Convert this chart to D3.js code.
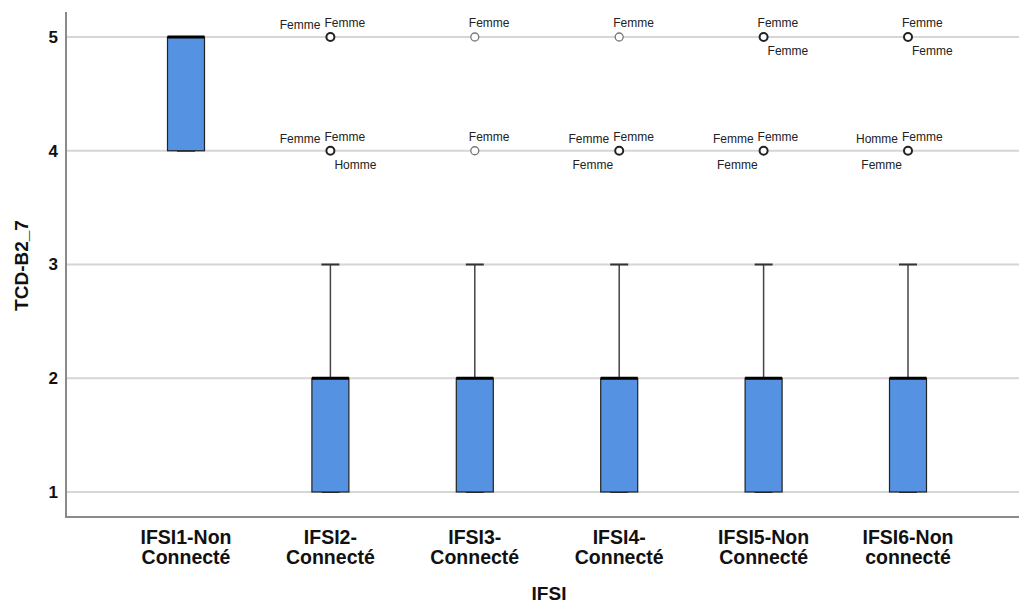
<!DOCTYPE html>
<html>
<head>
<meta charset="utf-8">
<script src="https://cdn.jsdelivr.net/npm/d3@7"></script>
<style>
  html, body { margin: 0; padding: 0; background: #fff; }
  svg { display: block; font-family: Arial, "Liberation Sans", sans-serif; }
</style>
</head>
<body>
<svg id="chart" width="1019" height="605"></svg>
<script>
// ---- data ----
const categories = ["IFSI1-Non Connecté", "IFSI2-Connecté", "IFSI3-Connecté", "IFSI4-Connecté", "IFSI5-Non Connecté", "IFSI6-Non connecté"];
const categoryLines = [["IFSI1-Non", "Connecté"], ["IFSI2-", "Connecté"], ["IFSI3-", "Connecté"], ["IFSI4-", "Connecté"], ["IFSI5-Non", "Connecté"], ["IFSI6-Non", "connecté"]];
const whiskerLow = [4, 1, 1, 1, 1, 1];
const q1 = [4, 1, 1, 1, 1, 1];
const median = [5, 2, 2, 2, 2, 2];
const q3 = [5, 2, 2, 2, 2, 2];
const whiskerHigh = [5, 3, 3, 3, 3, 3];
const yTicks = [1, 2, 3, 4, 5];
const yTitle = "TCD-B2_7";
const xTitle = "IFSI";
// outliers: group index, value, labels with anchor (t = above, l = left, br = below right, bl = below left)
const outlierGroup = [1, 1, 2, 2, 3, 3, 4, 4, 5, 5];
const outlierValue = [5, 4, 5, 4, 5, 4, 5, 4, 5, 4];
const outlierLabels = [
  [["t", "Femme"], ["l", "Femme"]],
  [["t", "Femme"], ["l", "Femme"], ["br", "Homme"]],
  [["t", "Femme"]],
  [["t", "Femme"]],
  [["t", "Femme"]],
  [["t", "Femme"], ["l", "Femme"], ["bl", "Femme"]],
  [["t", "Femme"], ["br", "Femme"]],
  [["t", "Femme"], ["l", "Femme"], ["bl", "Femme"]],
  [["t", "Femme"], ["br", "Femme"]],
  [["t", "Femme"], ["l", "Homme"], ["bl", "Femme"]]
];

// ---- layout ----
const svg = d3.select("#chart");
const pLeft = 66, pRight = 1019, pTop = 12, pBottom = 517;
const x = d3.scalePoint().domain(categories).range([186, 908]);
const y = d3.scaleLinear().domain([0.78, 5.22]).range([pBottom, pTop]);
const boxW = 37, capW = 18;

// gridlines
svg.append("g").selectAll("line").data(yTicks).join("line")
  .attr("x1", pLeft).attr("x2", pRight)
  .attr("y1", d => y(d)).attr("y2", d => y(d))
  .attr("stroke", "#d6d6d6").attr("stroke-width", 2);

// axes
const yAxis = d3.axisLeft(y).tickValues(yTicks).tickSize(0).tickPadding(8).tickFormat(d3.format("d"));
const gy = svg.append("g").attr("transform", `translate(${pLeft},0)`).call(yAxis);
gy.select(".domain").remove();
gy.selectAll("text").attr("font-size", 17).attr("font-weight", "bold").attr("fill", "#111")
  .attr("font-family", "Arial, 'Liberation Sans', sans-serif");

const xAxis = d3.axisBottom(x).tickSize(0).tickFormat("");
const gx = svg.append("g").attr("transform", `translate(0,${pBottom})`).call(xAxis);
gx.select(".domain").remove();

svg.append("line").attr("x1", pLeft).attr("x2", pLeft).attr("y1", pTop).attr("y2", pBottom + 1)
  .attr("stroke", "#8a8a8a").attr("stroke-width", 2);
svg.append("line").attr("x1", pLeft - 1).attr("x2", pRight).attr("y1", pBottom).attr("y2", pBottom)
  .attr("stroke", "#8a8a8a").attr("stroke-width", 2);

// category labels
const catG = svg.append("g");
categories.forEach((c, i) => {
  const t = catG.append("text").attr("x", x(c)).attr("y", 544)
    .attr("text-anchor", "middle").attr("font-size", 19.5).attr("font-weight", "bold").attr("fill", "#111");
  categoryLines[i].forEach((ln, j) => {
    t.append("tspan").attr("x", x(c)).attr("dy", j === 0 ? 0 : 20).text(ln);
  });
});

// titles
svg.append("text").attr("x", 549).attr("y", 600).attr("text-anchor", "middle")
  .attr("font-size", 19).attr("font-weight", "bold").attr("fill", "#111").text(xTitle);
svg.append("text").attr("transform", `translate(28,${(pTop + pBottom) / 2 + 1}) rotate(-90)`)
  .attr("text-anchor", "middle").attr("font-size", 19).attr("font-weight", "bold").attr("fill", "#111").text(yTitle);

// boxes
const boxes = svg.append("g");
categories.forEach((c, i) => {
  const cx = x(c);
  boxes.append("line").attr("x1", cx).attr("x2", cx).attr("y1", y(whiskerHigh[i])).attr("y2", y(q3[i]))
    .attr("stroke", "#444").attr("stroke-width", 1.5);
  boxes.append("line").attr("x1", cx).attr("x2", cx).attr("y1", y(whiskerLow[i])).attr("y2", y(q1[i]))
    .attr("stroke", "#444").attr("stroke-width", 1.5);
  [whiskerHigh[i], whiskerLow[i]].forEach(v => {
    boxes.append("line").attr("x1", cx - capW / 2).attr("x2", cx + capW / 2).attr("y1", y(v)).attr("y2", y(v))
      .attr("stroke", "#333").attr("stroke-width", 2);
  });
  boxes.append("rect").attr("x", cx - boxW / 2).attr("y", y(q3[i])).attr("width", boxW)
    .attr("height", y(q1[i]) - y(q3[i])).attr("fill", "#5593e2").attr("stroke", "#222").attr("stroke-width", 1.2);
  boxes.append("line").attr("x1", cx - boxW / 2).attr("x2", cx + boxW / 2).attr("y1", y(median[i])).attr("y2", y(median[i]))
    .attr("stroke", "#000").attr("stroke-width", 3);
});

// outliers
const og = svg.append("g");
outlierGroup.forEach((g, k) => {
  const cx = x(categories[g]);
  const cy = y(outlierValue[k]);
  const labs = outlierLabels[k];
  const multi = labs.length > 1;
  og.append("circle").attr("cx", cx).attr("cy", cy).attr("r", 4)
    .attr("fill", "#fff").attr("stroke", multi ? "#222" : "#777").attr("stroke-width", multi ? 2 : 1.3);
  labs.forEach(([pos, txt]) => {
    const t = og.append("text").attr("font-size", 12).attr("fill", "#222").text(txt);
    if (pos === "t") t.attr("x", cx - 6).attr("y", cy - 10).attr("text-anchor", "start");
    if (pos === "l") t.attr("x", cx - 10).attr("y", cy - 8).attr("text-anchor", "end");
    if (pos === "br") t.attr("x", cx + 4).attr("y", cy + 18).attr("text-anchor", "start");
    if (pos === "bl") t.attr("x", cx - 6).attr("y", cy + 18).attr("text-anchor", "end");
  });
});
</script>
</body>
</html>
